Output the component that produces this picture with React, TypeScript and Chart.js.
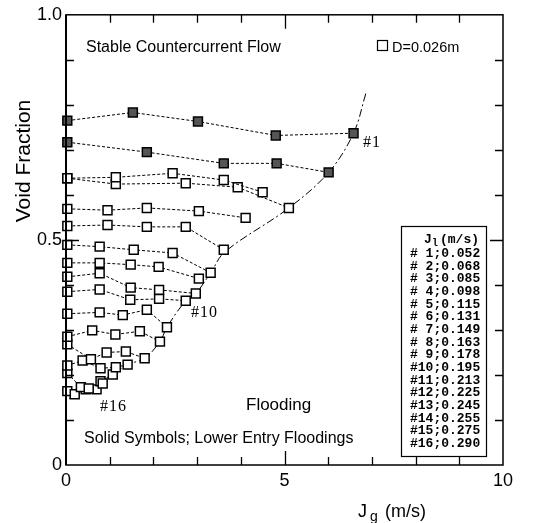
import React, { useEffect, useRef } from 'react';
import { Chart, registerables } from 'chart.js';

Chart.register(...registerables);

// Void fraction vs Jg (m/s) for each liquid flux Jl
const s01 = [[0.03, 0.765], [1.53, 0.783], [3.02, 0.763], [4.80, 0.732], [6.58, 0.737]];
const s02 = [[0.03, 0.717], [1.85, 0.695], [3.61, 0.670], [4.82, 0.670], [6.01, 0.650]];
const s03 = [[0.03, 0.637], [1.14, 0.639], [2.44, 0.648], [3.61, 0.633], [4.50, 0.606]];
const s04 = [[0.03, 0.637], [1.14, 0.624], [2.74, 0.626], [3.93, 0.617], [5.10, 0.571]];
const s05 = [[0.03, 0.569], [0.95, 0.566], [1.85, 0.571], [3.04, 0.564], [4.11, 0.549]];
const s06 = [[0.03, 0.531], [0.95, 0.533], [1.85, 0.529], [2.74, 0.529], [3.61, 0.478]];
const s07 = [[0.03, 0.489], [0.77, 0.485], [1.55, 0.478], [2.44, 0.471], [3.31, 0.427]];
const s08 = [[0.03, 0.449], [0.77, 0.449], [1.48, 0.445], [2.12, 0.440], [3.04, 0.414]];
const s09 = [[0.03, 0.418], [0.77, 0.426], [1.48, 0.394], [2.13, 0.389], [2.97, 0.381]];
const s10 = [[0.03, 0.385], [0.77, 0.390], [1.47, 0.367], [2.13, 0.369], [2.74, 0.365]];
const s11 = [[0.03, 0.336], [0.77, 0.339], [1.30, 0.333], [1.85, 0.345], [2.31, 0.306]];
const s12 = [[0.03, 0.285], [0.60, 0.299], [1.13, 0.290], [1.69, 0.297], [2.15, 0.274]];
const s13 = [[0.03, 0.268], [0.57, 0.235], [0.93, 0.250], [1.37, 0.252], [1.80, 0.237]];
const s14 = [[0.03, 0.221], [0.38, 0.232], [0.79, 0.215], [1.14, 0.217], [1.41, 0.223]];
const s15 = [[0.03, 0.204], [0.34, 0.173], [0.52, 0.170], [0.84, 0.181], [1.07, 0.201]];
const s16 = [[0.03, 0.164], [0.20, 0.157], [0.45, 0.168], [0.70, 0.168], [0.79, 0.186]];

// Flooding boundary (dash-dot curve)
const floodLine = [
  [6.86, 0.825], [6.58, 0.737], [6.01, 0.650], [5.10, 0.571], [3.63, 0.473], [3.31, 0.427],
  [2.97, 0.381], [2.74, 0.365], [2.31, 0.306], [2.15, 0.274], [1.80, 0.237], [1.41, 0.223],
  [1.07, 0.201], [0.79, 0.186], [0.61, 0.173], [0.20, 0.157], [0.03, 0.144],
];

const seriesList = [s01, s02, s03, s04, s05, s06, s07, s08, s09, s10, s11, s12, s13, s14, s15, s16];
const solidSeries = [true, true, false, false, false, false, false, false, false, false, false, false, false, false, false, false];
const legendNames = ['# 1', '# 2', '# 3', '# 4', '# 5', '# 6', '# 7', '# 8', '# 9', '#10', '#11', '#12', '#13', '#14', '#15', '#16'];
const jlValues = ['0.052', '0.068', '0.085', '0.098', '0.115', '0.131', '0.149', '0.163', '0.178', '0.195', '0.213', '0.225', '0.245', '0.255', '0.275', '0.290'];

const xMinorTicks = [1, 2, 3, 4, 5, 6, 7, 8, 9];
const yMinorTicks = [0.1, 0.2, 0.3, 0.4, 0.5, 0.6, 0.7, 0.8, 0.9];

const SANS = '"Liberation Sans", Arial, Helvetica, sans-serif';
const MONO = '"Liberation Mono", "DejaVu Sans Mono", monospace';
const SERIF = '"Liberation Serif", "Times New Roman", serif';

const overlayPlugin = {
  id: 'overlay',
  afterDraw(chart: any) {
    const { ctx, chartArea: a, scales } = chart;
    const xs = scales.x;
    const ys = scales.y;
    ctx.save();
    ctx.strokeStyle = '#000';
    ctx.fillStyle = '#000';
    // frame
    ctx.lineWidth = 1.5;
    ctx.strokeRect(a.left, a.top, a.right - a.left, a.bottom - a.top);
    ctx.lineWidth = 2;
    ctx.beginPath();
    ctx.moveTo(a.left, a.top);
    ctx.lineTo(a.left, a.bottom);
    ctx.stroke();
    // inward ticks
    ctx.lineWidth = 1.3;
    ctx.beginPath();
    for (const v of xMinorTicks) {
      const px = Math.round(xs.getPixelForValue(v)) + 0.5;
      const len = v === 5 ? 14 : 8;
      ctx.moveTo(px, a.bottom);
      ctx.lineTo(px, a.bottom - len);
      ctx.moveTo(px, a.top);
      ctx.lineTo(px, a.top + len);
    }
    for (const v of yMinorTicks) {
      const py = Math.round(ys.getPixelForValue(v)) + 0.5;
      const len = Math.abs(v - 0.5) < 1e-6 ? 13 : 8;
      ctx.moveTo(a.left, py);
      ctx.lineTo(a.left + len, py);
      ctx.moveTo(a.right, py);
      ctx.lineTo(a.right - len, py);
    }
    ctx.stroke();

    // annotations
    ctx.textAlign = 'left';
    ctx.textBaseline = 'alphabetic';
    ctx.font = `16px ${SANS}`;
    ctx.fillText('Stable Countercurrent Flow', 86, 52);
    ctx.fillText('Solid Symbols; Lower Entry Floodings', 84, 443);
    ctx.font = `14.5px ${SANS}`;
    ctx.fillText('D=0.026m', 392, 52);
    ctx.lineWidth = 1.2;
    ctx.strokeRect(377.5, 40.5, 10, 10);
    ctx.font = `17px ${SANS}`;
    ctx.fillText('Flooding', 246, 410);

    ctx.font = `16px ${SERIF}`;
    (ctx as any).letterSpacing = '1px';
    ctx.fillText('#1', 363, 147);
    ctx.fillText('#10', 191, 317);
    ctx.fillText('#16', 100, 411);
    (ctx as any).letterSpacing = '0px';

    // legend box
    ctx.fillStyle = '#fff';
    ctx.fillRect(401, 226, 85, 230);
    ctx.fillStyle = '#000';
    ctx.lineWidth = 1.2;
    ctx.strokeRect(401.5, 226.5, 85, 230);
    ctx.font = `bold 13px ${MONO}`;
    ctx.fillText('J', 424, 243);
    ctx.font = `bold 10px ${MONO}`;
    ctx.fillText('l', 432, 246);
    ctx.font = `bold 13px ${MONO}`;
    ctx.fillText('(m/s)', 440, 243);
    for (let i = 0; i < legendNames.length; i++) {
      ctx.fillText(`${legendNames[i]};${jlValues[i]}`, 410, 257 + i * 12.67);
    }

    // axis titles
    ctx.font = `21px ${SANS}`;
    ctx.save();
    ctx.translate(30, 161);
    ctx.rotate(-Math.PI / 2);
    ctx.textAlign = 'center';
    ctx.fillText('Void Fraction', 0, 0);
    ctx.restore();
    ctx.font = `18px ${SANS}`;
    ctx.fillText('J', 358, 517);
    ctx.font = `14px ${SANS}`;
    ctx.fillText('g', 370, 521);
    ctx.font = `18px ${SANS}`;
    ctx.fillText('(m/s)', 385, 517);
    ctx.restore();
  },
};

export default function App() {
  const ref = useRef<HTMLCanvasElement | null>(null);
  useEffect(() => {
    if (!ref.current) return;
    const datasets: any[] = seriesList.map((s, i) => ({
      label: legendNames[i],
      data: s.map(([x, y]) => ({ x, y })),
      showLine: true,
      clip: false,
      borderColor: '#000',
      borderWidth: 1,
      borderDash: [3, 2],
      pointStyle: 'rect',
      pointRadius: 6.3,
      pointBorderWidth: 1.5,
      pointBorderColor: '#000',
      pointBackgroundColor: solidSeries[i] ? '#555' : '#fff',
      tension: 0,
    }));
    datasets.push({
      label: 'flooding',
      data: floodLine.map(([x, y]) => ({ x, y })),
      showLine: true,
      clip: false,
      borderColor: '#000',
      borderWidth: 1,
      borderDash: [8, 3, 2, 3],
      pointRadius: 0,
      tension: 0.35,
    });
    const chart = new Chart(ref.current, {
      type: 'scatter',
      data: { datasets },
      options: {
        animation: false,
        responsive: false,
        devicePixelRatio: 1,
        layout: { padding: { top: 13, right: 50, left: 0, bottom: 0 } },
        plugins: { legend: { display: false }, tooltip: { enabled: false } },
        scales: {
          x: {
            type: 'linear',
            min: 0,
            max: 10,
            grid: { display: false, drawTicks: false },
            border: { display: false },
            ticks: {
              stepSize: 5,
              padding: 5,
              color: '#000',
              font: { family: SANS, size: 18 },
              callback: (v: any) => String(v),
            },
            afterFit: (s: any) => { s.height = 58; },
          },
          y: {
            type: 'linear',
            min: 0,
            max: 1,
            grid: { display: false, drawTicks: false },
            border: { display: false },
            ticks: {
              stepSize: 0.5,
              padding: 4,
              color: '#000',
              font: { family: SANS, size: 18 },
              callback: (v: any) => (v === 0 ? '0' : Number(v).toFixed(1)),
            },
            afterFit: (s: any) => { s.width = 66; },
          },
        },
      },
      plugins: [overlayPlugin],
    });
    return () => chart.destroy();
  }, []);
  return (
    <div style={{ position: 'absolute', left: 0, top: 0, width: 553, height: 523, background: '#fff' }}>
      <canvas ref={ref} width={553} height={523} />
    </div>
  );
}
